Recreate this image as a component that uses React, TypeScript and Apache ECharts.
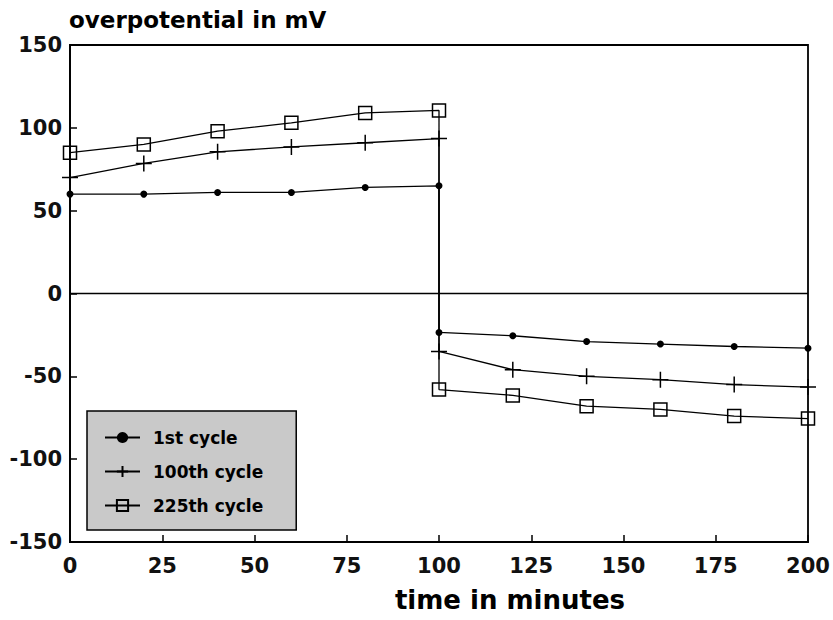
import React, { useEffect, useRef } from "react";
import * as echarts from "echarts";

// Time after start of the half-cycle (minutes); 100 appears twice for the current reversal step
const minutes = [0, 20, 40, 60, 80, 100, 100, 120, 140, 160, 180, 200];

// Overpotential (mV) for each cycle
const cycle1 = [60, 60, 61, 61, 64, 65, -23.5, -25.5, -29, -30.5, -32, -33];
const cycle100 = [70, 78.5, 85.5, 88.5, 91, 93.5, -35, -46, -50, -52, -55, -56.5];
const cycle225 = [85, 90, 98, 103, 109, 110.5, -58, -61.5, -68, -70, -74, -75.5];

const seriesNames = ["1st cycle", "100th cycle", "225th cycle"];
const xTicks = { min: 0, max: 200, interval: 25 };
const yTicks = { min: -150, max: 150, interval: 50 };

const FONT = "'DejaVu Sans', 'Liberation Sans', Arial, sans-serif";

const pairs = (vals: number[]) => minutes.map((m, i) => [m, vals[i]]);

export default function App() {
  const ref = useRef<HTMLDivElement>(null);

  useEffect(() => {
    if (!ref.current) return;
    const chart = echarts.init(ref.current, undefined, { renderer: "svg" });

    const lineStyle = { color: "#000", width: 1.3 };

    chart.setOption({
      animation: false,
      backgroundColor: "#fff",
      grid: {
        left: 70,
        right: 25,
        top: 45,
        bottom: 78,
        show: true,
        borderColor: "#000",
        borderWidth: 1.8,
        backgroundColor: "transparent",
      },
      xAxis: {
        type: "value",
        min: xTicks.min,
        max: xTicks.max,
        interval: xTicks.interval,
        axisLine: { show: true, onZero: false, lineStyle: { color: "#000", width: 1.8 } },
        axisTick: { show: true, inside: true, length: 7, lineStyle: { color: "#000", width: 1.5 } },
        splitLine: { show: false },
        axisLabel: {
          color: "#111",
          fontFamily: FONT,
          fontWeight: "bold",
          fontSize: 21,
          margin: 13,
        },
      },
      yAxis: {
        type: "value",
        min: yTicks.min,
        max: yTicks.max,
        interval: yTicks.interval,
        axisLine: { show: true, onZero: false, lineStyle: { color: "#000", width: 1.8 } },
        axisTick: { show: true, inside: true, length: 7, lineStyle: { color: "#000", width: 1.5 } },
        splitLine: { show: false },
        axisLabel: {
          color: "#111",
          fontFamily: FONT,
          fontWeight: "bold",
          fontSize: 21,
          margin: 8,
        },
      },
      legend: {
        show: true,
        orient: "vertical",
        left: 87,
        top: 411,
        data: seriesNames,
        backgroundColor: "#c9c9c9",
        borderColor: "#000",
        borderWidth: 1.5,
        padding: [18, 33, 16, 17],
        itemWidth: 35,
        itemHeight: 14,
        itemGap: 17,
        selectedMode: false,
        textStyle: {
          color: "#000",
          fontFamily: FONT,
          fontWeight: "bold",
          fontSize: 17,
          padding: [0, 0, 0, 8],
        },
      },
      graphic: [
        {
          type: "text",
          left: 69,
          top: 8,
          style: {
            text: "overpotential in mV",
            fill: "#000",
            font: `bold 23px ${FONT}`,
          },
        },
        {
          type: "text",
          x: 510,
          y: 600,
          style: {
            text: "time in minutes",
            fill: "#000",
            font: `bold 26px ${FONT}`,
            textAlign: "center",
            textVerticalAlign: "middle",
          },
        },
      ],
      series: [
        {
          name: seriesNames[0],
          type: "line",
          data: pairs(cycle1),
          clip: false,
          symbol: "circle",
          symbolSize: 7,
          itemStyle: { color: "#000" },
          lineStyle,
          emphasis: { disabled: true },
          markLine: {
            silent: true,
            symbol: "none",
            label: { show: false },
            lineStyle: { color: "#000", type: "solid", width: 1.3 },
            data: [{ yAxis: 0 }],
          },
        },
        {
          name: seriesNames[1],
          type: "line",
          data: pairs(cycle100),
          clip: false,
          symbol: "path://M5 0V10M0 5H10",
          symbolSize: 16,
          itemStyle: { color: "transparent", borderColor: "#000", borderWidth: 1.5 },
          lineStyle,
          emphasis: { disabled: true },
        },
        {
          name: seriesNames[2],
          type: "line",
          data: pairs(cycle225),
          clip: false,
          symbol: "rect",
          symbolSize: 13,
          itemStyle: { color: "transparent", borderColor: "#000", borderWidth: 1.5 },
          lineStyle,
          emphasis: { disabled: true },
        },
      ],
    });

    return () => chart.dispose();
  }, []);

  return (
    <div
      ref={ref}
      style={{ position: "absolute", left: 0, top: 0, width: 833, height: 620, background: "#fff" }}
    />
  );
}
